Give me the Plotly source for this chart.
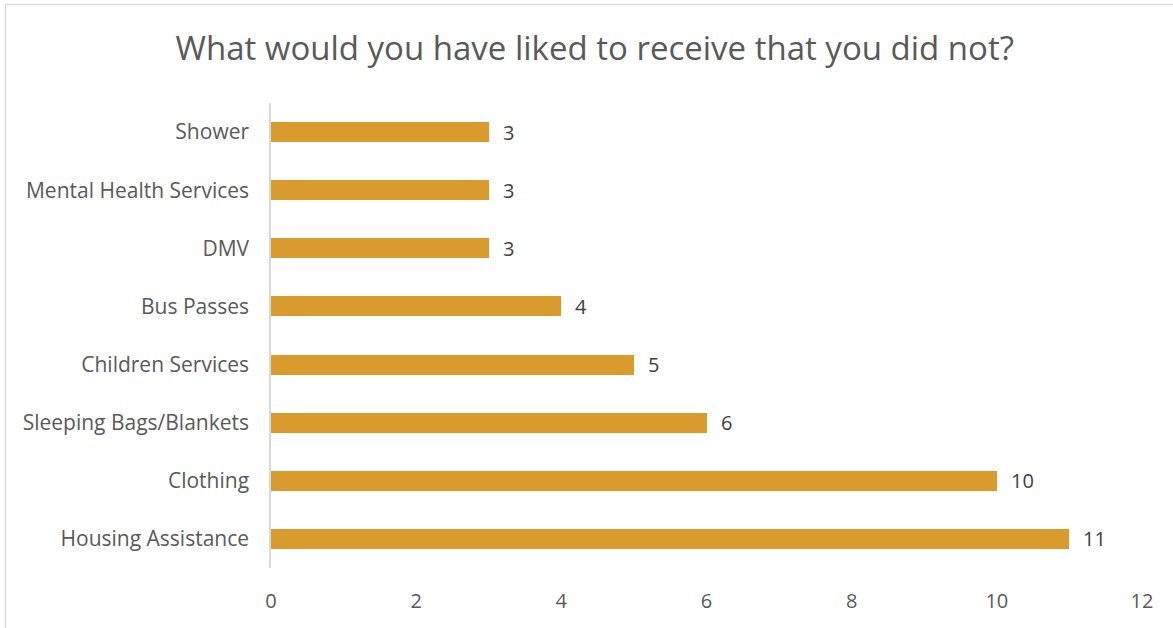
import plotly.graph_objects as go

# Survey responses: items people wanted but did not receive
categories = [
    "Housing Assistance",
    "Clothing",
    "Sleeping Bags/Blankets",
    "Children Services",
    "Bus Passes",
    "DMV",
    "Mental Health Services",
    "Shower",
]
counts = [11, 10, 6, 5, 4, 3, 3, 3]
x_ticks = [0, 2, 4, 6, 8, 10, 12]

W, H = 1173, 628
L, R, T, B = 271, 31, 103, 60
plot_w = W - L - R
plot_h = H - T - B

BAR = "#D99A2E"
TXT = "#595959"
FONT = "Open Sans"

fig = go.Figure(
    go.Bar(
        x=counts,
        y=categories,
        orientation="h",
        marker=dict(color=BAR, line=dict(width=0)),
        width=0.345,
        hoverinfo="x+y",
    )
)

# Value labels placed just past the end of each bar
for cat, val in zip(categories, counts):
    fig.add_annotation(
        x=val, y=cat, text=str(val), showarrow=False,
        xanchor="left", xshift=12,
        font=dict(family=FONT, size=20, color="#404040"),
    )

# Thin outer frame around the chart area
def px_x(px):
    return (px - L) / plot_w

def px_y(py):
    return (H - B - py) / plot_h

fig.add_shape(
    type="rect", xref="paper", yref="paper",
    x0=px_x(5.5), x1=px_x(1185), y0=px_y(640), y1=px_y(4.5),
    line=dict(color="#D9D9D9", width=1.5), fillcolor="rgba(0,0,0,0)",
    layer="below",
)

fig.update_layout(
    width=W, height=H,
    margin=dict(l=L, r=R, t=T, b=B),
    paper_bgcolor="white",
    plot_bgcolor="white",
    showlegend=False,
    title=dict(
        text="What would you have liked to receive that you did not?",
        x=0.507, xanchor="center", y=1 - 48 / H, yanchor="middle",
        font=dict(family=FONT, size=33, color=TXT),
    ),
    xaxis=dict(
        range=[0, 12],
        tickvals=x_ticks,
        showgrid=False, zeroline=False, showline=False,
        ticks="",
        ticklabelstandoff=19,
        tickfont=dict(family=FONT, size=20, color=TXT),
    ),
    yaxis=dict(
        categoryorder="array", categoryarray=categories,
        showgrid=False, zeroline=False,
        showline=True, linecolor="#D9D9D9", linewidth=1.5,
        ticks="",
        ticklabelstandoff=16,
        tickfont=dict(family=FONT, size=21, color=TXT),
    ),
    bargap=0,
)

fig.write_html("out.html")
